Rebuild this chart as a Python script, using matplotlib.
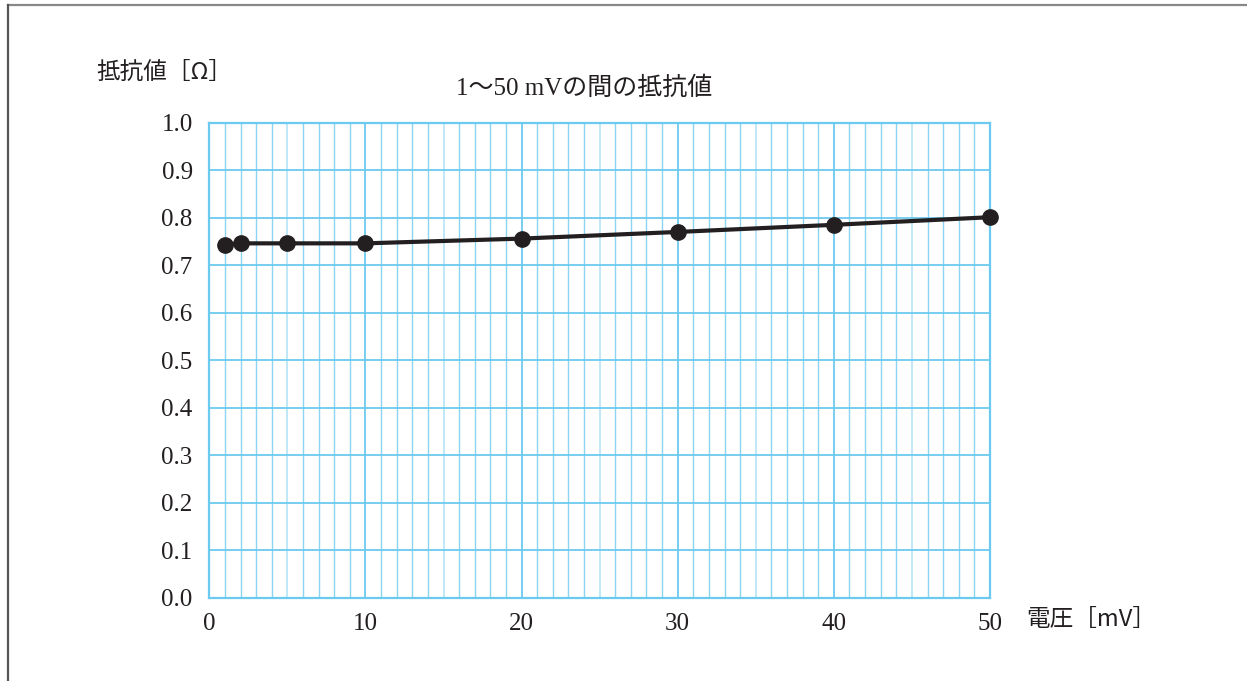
import numpy as np
import matplotlib
matplotlib.use("Agg")
import matplotlib.pyplot as plt
from matplotlib.lines import Line2D

# ============== data ==============
voltage_mV = [1, 2, 5, 10, 20, 30, 40, 50]
resistance_ohm = [0.743, 0.746, 0.746, 0.746, 0.756, 0.770, 0.785, 0.801]

x_ticks = [0, 10, 20, 30, 40, 50]
y_ticks = [0.0, 0.1, 0.2, 0.3, 0.4, 0.5, 0.6, 0.7, 0.8, 0.9, 1.0]

title = "1〜50 mVの間の抵抗値"
ylabel = "抵抗値［Ω］"
xlabel = "電圧［mV］"

num_font = ["Liberation Serif", "Noto Sans CJK JP"]
jp_font = ["Noto Sans CJK JP", "Liberation Serif"]

grid_main = "#6cc9ef"
grid_minor = "#8ad5f3"
grid_five = "#b5e4f7"
ink = "#231f20"

W, H = 1247, 681
fig = plt.figure(figsize=(W / 100, H / 100), dpi=100)
ax = fig.add_axes([209.3 / W, 1 - 597.7 / H, (990 - 209.3) / W, (597.7 - 122.7) / H])

ax.set_xlim(0, 50)
ax.set_ylim(0, 1.0)

# graph paper grid
ax.set_xticks(x_ticks)
ax.set_yticks(y_ticks)
ax.set_xticks([i for i in range(51) if i % 5], minor=True)
ax.grid(True, which="major", color=grid_main, lw=1.3)
ax.grid(True, which="minor", axis="x", color=grid_minor, lw=1.0)
for v in range(5, 50, 10):
    ax.axvline(v, color=grid_five, lw=1.2, zorder=0.5)
ax.set_axisbelow(True)

for s in ax.spines.values():
    s.set_color(grid_main)
    s.set_linewidth(1.6)

ax.tick_params(which="both", length=0)
ax.tick_params(axis="x", pad=11)
ax.tick_params(axis="y", pad=12)
ax.set_xticklabels([str(t) for t in x_ticks], fontfamily=num_font, fontsize=18, color=ink)
ax.set_yticklabels([f"{t:.1f}" for t in y_ticks], fontfamily=num_font, fontsize=18, color=ink)

ax.plot(voltage_mV, resistance_ohm, color=ink, lw=3.0, marker="o", ms=11,
        solid_capstyle="round", zorder=3, clip_on=False)

fig.text(584 / W, 1 - 88 / H, title, ha="center", va="center",
         fontfamily=num_font, fontsize=18, color=ink)
fig.text(96 / W, 1 - 72 / H, ylabel, ha="left", va="center",
         fontfamily=jp_font, fontsize=17, color=ink)
fig.text(1026 / W, 1 - 620 / H, xlabel, ha="left", va="center",
         fontfamily=jp_font, fontsize=17, color=ink)

# frame lines at the top and left of the panel
fig.add_artist(Line2D([8 / W, 1], [1 - 5 / H, 1 - 5 / H], transform=fig.transFigure,
                      color="#888888", lw=1.6))
fig.add_artist(Line2D([8 / W, 8 / W], [0, 1 - 5 / H], transform=fig.transFigure,
                      color="#555555", lw=1.6))

fig.savefig("out.png", dpi=100, facecolor="white")
